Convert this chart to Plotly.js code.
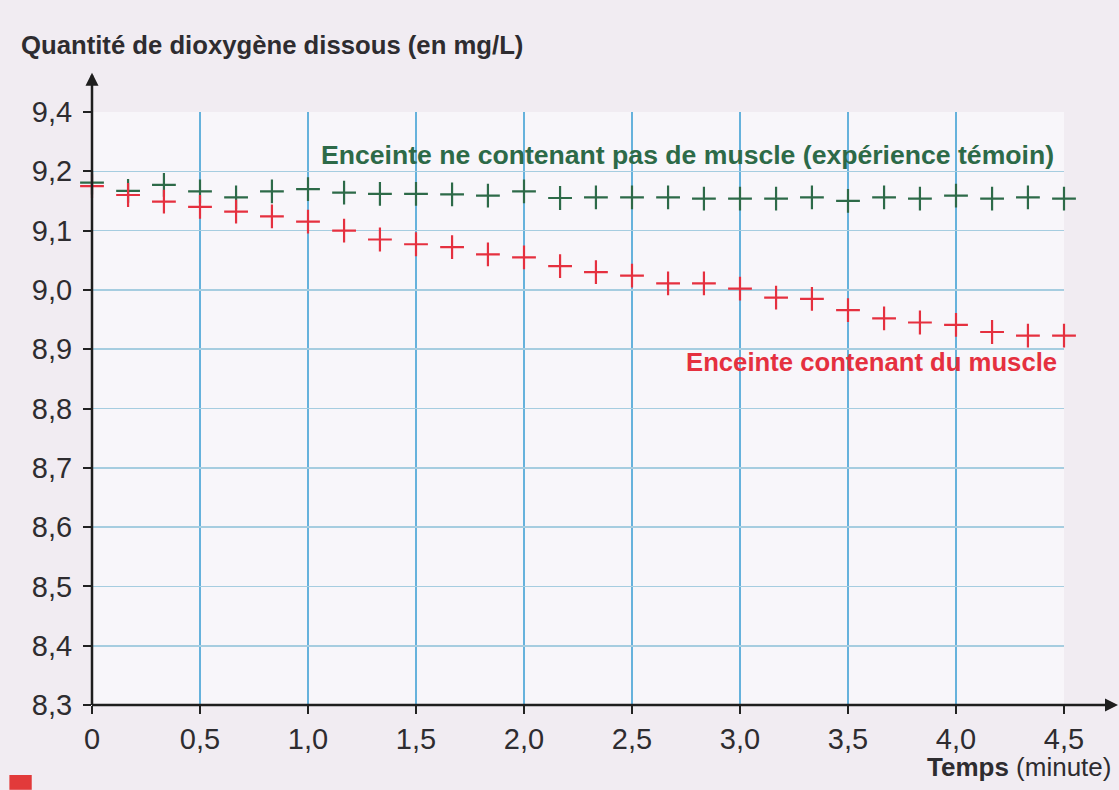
<!DOCTYPE html>
<html>
<head>
<meta charset="utf-8">
<script src="https://cdn.plot.ly/plotly-3.0.1.min.js"></script>
<style>
  html, body { margin: 0; padding: 0; background: #f0ebf1; }
  #chart { width: 1119px; height: 790px; }
</style>
</head>
<body>
<div id="chart"></div>
<script>
// Time in minutes (one measurement every 10 s)
const timeMin = [0, 0.167, 0.333, 0.5, 0.667, 0.833, 1.0, 1.167, 1.333, 1.5, 1.667, 1.833, 2.0, 2.167,
                 2.333, 2.5, 2.667, 2.833, 3.0, 3.167, 3.333, 3.5, 3.667, 3.833, 4.0, 4.167, 4.333, 4.5];

// Enceinte ne contenant pas de muscle (expérience témoin)
const temoinO2 = [9.181, 9.167, 9.177, 9.166, 9.156, 9.166, 9.170, 9.164, 9.162, 9.162, 9.161, 9.159, 9.166, 9.155,
                  9.156, 9.156, 9.156, 9.154, 9.154, 9.154, 9.156, 9.150, 9.156, 9.154, 9.159, 9.154, 9.156, 9.154];

// Enceinte contenant du muscle
const muscleO2 = [9.175, 9.160, 9.149, 9.140, 9.132, 9.124, 9.115, 9.100, 9.085, 9.077, 9.072, 9.060, 9.055, 9.040,
                  9.030, 9.024, 9.011, 9.011, 9.002, 8.987, 8.985, 8.966, 8.952, 8.945, 8.941, 8.929, 8.923, 8.923];

const xTickVals = [0, 0.5, 1.0, 1.5, 2.0, 2.5, 3.0, 3.5, 4.0, 4.5];
const xTickText = ['0', '0,5', '1,0', '1,5', '2,0', '2,5', '3,0', '3,5', '4,0', '4,5'];
const yTickVals = [8.3, 8.4, 8.5, 8.6, 8.7, 8.8, 8.9, 9.0, 9.1, 9.2, 9.3];
const yTickText = ['8,3', '8,4', '8,5', '8,6', '8,7', '8,8', '8,9', '9,0', '9,1', '9,2', '9,4'];

const labelTemoin = 'Enceinte ne contenant pas de muscle (expérience témoin)';
const labelMuscle = 'Enceinte contenant du muscle';
const yTitle = 'Quantité de dioxygène dissous (en mg/L)';
const xTitle = 'Temps (minute)';

const GREEN = '#2d6a48';
const RED = '#e5303f';
const INK = '#2e2c30';
const FONT = '"Liberation Sans", Arial, Helvetica, sans-serif';

const traces = [
  {
    x: timeMin, y: temoinO2, type: 'scatter', mode: 'markers', name: labelTemoin,
    marker: { symbol: 'cross-thin', size: 17, line: { color: GREEN, width: 2.2 }, color: GREEN },
    cliponaxis: false, hoverinfo: 'x+y'
  },
  {
    x: timeMin, y: muscleO2, type: 'scatter', mode: 'markers', name: labelMuscle,
    marker: { symbol: 'cross-thin', size: 17, line: { color: RED, width: 2.2 }, color: RED },
    cliponaxis: false, hoverinfo: 'x+y'
  }
];

const layout = {
  width: 1119, height: 790,
  margin: { l: 92, r: 55, t: 112, b: 85 },
  paper_bgcolor: '#f1ecf2',
  plot_bgcolor: '#f8f6fa',
  showlegend: false,
  font: { family: FONT, color: INK },
  xaxis: {
    range: [0, 4.5], tickvals: xTickVals, ticktext: xTickText,
    showgrid: true, gridcolor: '#66b2dc', gridwidth: 2,
    zeroline: false, showline: false,
    ticks: 'outside', ticklen: 8, tickwidth: 2, tickcolor: '#222',
    tickfont: { family: FONT, size: 29, color: INK },
    fixedrange: true
  },
  yaxis: {
    range: [8.3, 9.3], tickvals: yTickVals, ticktext: yTickText,
    showgrid: true, gridcolor: '#a6cde0', gridwidth: 1.6,
    zeroline: false, showline: false,
    ticks: 'outside', ticklen: 8, tickwidth: 2, tickcolor: '#222',
    ticklabelstandoff: 5,
    tickfont: { family: FONT, size: 29, color: INK },
    fixedrange: true
  },
  shapes: [
    // x axis line extended beyond the plot with an arrow
    { type: 'line', xref: 'paper', yref: 'paper', x0: 0, x1: 1.045, y0: 0, y1: 0,
      line: { color: '#1e1e1e', width: 2.5 } },
    // y axis line extended above the plot with an arrow
    { type: 'line', xref: 'paper', yref: 'paper', x0: 0, x1: 0, y0: 0, y1: 1.062,
      line: { color: '#1e1e1e', width: 2.5 } },
    // small red page mark bottom-left
    { type: 'rect', xref: 'paper', yref: 'paper', x0: -0.085, x1: -0.062, y0: -0.143, y1: -0.118,
      line: { width: 0 }, fillcolor: '#e23a3a' }
  ],
  annotations: [
    { xref: 'paper', yref: 'paper', x: 1.07, y: 0, ax: -28, ay: 0, axref: 'pixel', ayref: 'pixel',
      showarrow: true, arrowhead: 2, arrowsize: 1.3, arrowwidth: 2, arrowcolor: '#1e1e1e', text: '' },
    { xref: 'paper', yref: 'paper', x: 0, y: 1.066, ax: 0, ay: 28, axref: 'pixel', ayref: 'pixel',
      showarrow: true, arrowhead: 2, arrowsize: 1.3, arrowwidth: 2, arrowcolor: '#1e1e1e', text: '' },
    { xref: 'x', yref: 'y', x: 1.05, y: 9.228, xanchor: 'left', yanchor: 'middle', showarrow: false,
      text: labelTemoin, font: { family: FONT, size: 26.6, color: GREEN, weight: 'bold' } },
    { xref: 'x', yref: 'y', x: 2.74, y: 8.878, xanchor: 'left', yanchor: 'middle', showarrow: false,
      text: labelMuscle, font: { family: FONT, size: 25.7, color: RED, weight: 'bold' } },
    { xref: 'paper', yref: 'paper', x: -0.075, y: 1.113, xanchor: 'left', yanchor: 'middle', showarrow: false,
      text: yTitle, font: { family: FONT, size: 25.7, color: INK, weight: 'bold' } },
    { xref: 'paper', yref: 'paper', x: 1.05, y: -0.104, xanchor: 'right', yanchor: 'middle', showarrow: false,
      text: '<b>Temps</b> (minute)', font: { family: FONT, size: 26, color: INK } }
  ]
};

Plotly.newPlot('chart', traces, layout, { displayModeBar: false, staticPlot: true });
</script>
</body>
</html>
